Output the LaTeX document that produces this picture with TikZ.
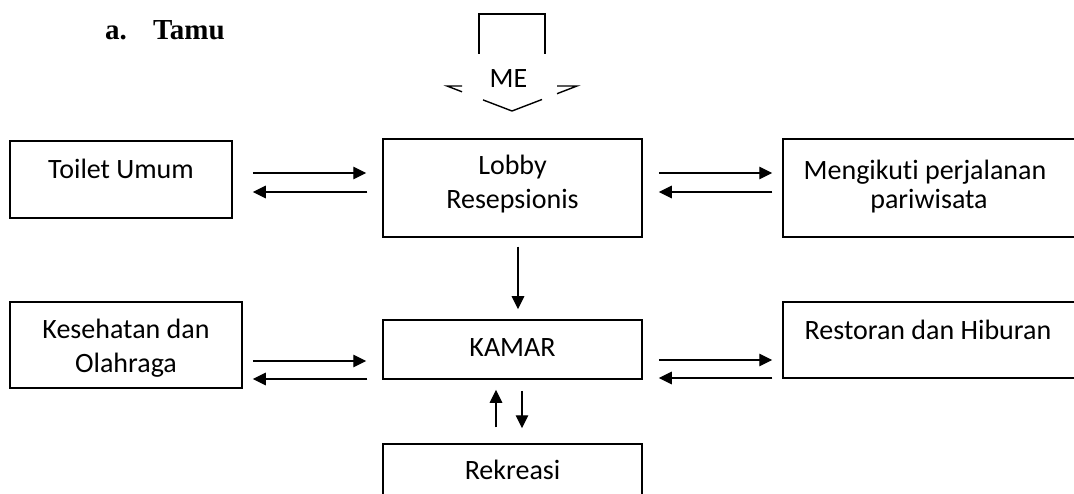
\documentclass[tikz,border=0pt]{standalone}
\usepackage{fontspec}
\setmainfont{Carlito}[Ligatures=NoCommon]
\newfontfamily\headfont{Liberation Serif}
\usetikzlibrary{arrows.meta}

\begin{document}
\begin{tikzpicture}[x=1pt,y=-1pt,
    box/.style={draw, line width=1.5pt, inner sep=0pt, anchor=center},
    txt/.style={anchor=base, inner sep=0pt, font=\fontsize{28}{33}\selectfont},
    arr/.style={-{Triangle[length=13pt,width=12.5pt]}, line width=1.3pt},
    outline/.style={line width=1.4pt, line join=miter}]
  \clip (0,0) rectangle (1074,494);

  % heading
  \node[anchor=base west, inner sep=0pt, font=\headfont\bfseries\fontsize{29}{34}\selectfont] (ha) at (105,40) {a.};
  \node[anchor=base west, inner sep=0pt, font=\headfont\bfseries\fontsize{29}{34}\selectfont] (hb) at (153,40) {Tamu};

  % entrance arrow (ME)
  \draw[outline] (479,54) -- (479,14) -- (545,14) -- (545,54);
  \draw[outline] (462,86) -- (447,86) -- (462,91.8);
  \draw[outline] (557,86) -- (577,86) -- (557,93.7);
  \draw[outline] (483,99.9) -- (512,111) -- (542,99.5);
  \node[txt] (me) at (508.5,88) {ME};

  % boxes
  \node[box, minimum width=222pt, minimum height=77pt] (toilet) at (121,179.5) {};
  \node[box, minimum width=259pt, minimum height=98pt] (lobby) at (512.5,188) {};
  \node[box, minimum width=297pt, minimum height=98pt] (meng) at (931.5,188) {};
  \node[box, minimum width=232pt, minimum height=86pt] (kes) at (126,345) {};
  \node[box, minimum width=259pt, minimum height=59pt] (kamar) at (512.5,349.5) {};
  \node[box, minimum width=297pt, minimum height=76pt] (rest) at (931.5,340) {};
  \node[box, minimum width=259pt, minimum height=61pt] (rek) at (512.5,474.5) {};

  % box labels
  \node[txt] (toiletT) at (121,179) {Toilet Umum};
  \node[txt] (lobbyA) at (512.5,175) {Lobby};
  \node[txt] (lobbyB) at (512.5,209) {Resepsionis};
  \node[txt] (mengA) at (925,180) {Mengikuti perjalanan};
  \node[txt] (mengB) at (929,209) {pariwisata};
  \node[txt] (kesA) at (126,339) {Kesehatan dan};
  \node[txt] (kesB) at (126,373) {Olahraga};
  \node[txt] (kamarT) at (512.5,356) {KAMAR};
  \node[txt] (restT) at (928,340) {Restoran dan Hiburan};
  \node[txt] (rekT) at (512.5,479) {Rekreasi};

  % connectors, upper row
  \draw[arr, shorten <=20pt, shorten >=16pt] (toilet.east |- 0,173) -- (lobby.west |- 0,173);
  \draw[arr, shorten <=15pt, shorten >=20pt] (lobby.west |- 0,192) -- (toilet.east |- 0,192);
  \draw[arr, shorten <=16pt, shorten >=10pt] (lobby.east |- 0,173) -- (meng.west |- 0,173);
  \draw[arr, shorten <=10pt, shorten >=16pt] (meng.west |- 0,192) -- (lobby.east |- 0,192);

  % connectors, lower row
  \draw[arr, shorten <=10pt, shorten >=16pt] (kes.east |- 0,361) -- (kamar.west |- 0,361);
  \draw[arr, shorten <=15pt, shorten >=10pt] (kamar.west |- 0,379) -- (kes.east |- 0,379);
  \draw[arr, shorten <=16pt, shorten >=10pt] (kamar.east |- 0,360) -- (rest.west |- 0,360);
  \draw[arr, shorten <=10pt, shorten >=16pt] (rest.west |- 0,378) -- (kamar.east |- 0,378);

  % vertical connectors
  \draw[arr, shorten <=9pt, shorten >=10pt] (lobby.south -| 518,0) -- (kamar.north -| 518,0);
  \draw[arr, shorten <=16pt, shorten >=10pt] (rek.north -| 496,0) -- (kamar.south -| 496,0);
  \draw[arr, shorten <=11pt, shorten >=15pt] (kamar.south -| 522,0) -- (rek.north -| 522,0);
\end{tikzpicture}
\end{document}
